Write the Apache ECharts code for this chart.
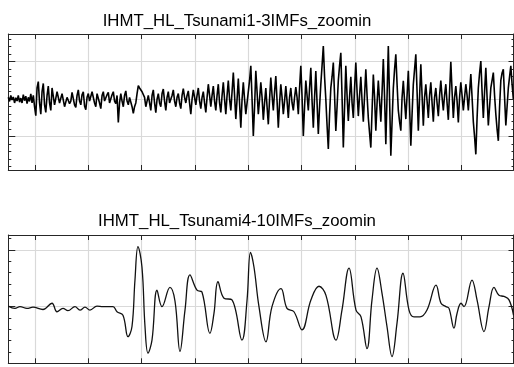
<!DOCTYPE html>
<html>
<head>
<meta charset="utf-8">
<script src="https://cdn.jsdelivr.net/npm/echarts@6/dist/echarts.min.js"></script>
<style>
  html, body { margin: 0; padding: 0; background: #fff; }
  #chart { width: 514px; height: 367px; }
</style>
</head>
<body>
<div id="chart"></div>
<script>
// panel titles
const titles = ["IHMT_HL_Tsunami1-3IMFs_zoomin", "IHMT_HL_Tsunami4-10IMFs_zoomin"];

// shared time axis (no labels shown): range and gridline positions
const timeRange = [5, 99.72];
const timeTicks = [10, 20, 30, 40, 50, 60, 70, 80, 90];

// top panel: IMFs 1-3, evenly sampled from t = 5
const topStart = 5;
const topStep = 0.234375;
const topValues = [
  0.05, -0.06, 0.1, -0.02, 0.06, -0.1, 0.04, -0.05, 0.1, -0.08,
  0.03, -0.1, 0.12, -0.04, 0.08, -0.12, 0.05, -0.06, 0.14, -0.1,
  0.1, -0.2, -0.44, 0.3, 0.47, -0.1, -0.4, 0.2, 0.42, -0.15,
  -0.35, 0.1, 0.35, -0.1, -0.3, 0.3, 0.25, -0.15, -0.2, 0.2,
  0.22, -0.1, -0.12, 0.15, 0.18, -0.2, -0.25, 0.05, 0.1, -0.12,
  -0.05, 0.18, 0.2, -0.15, -0.22, 0.1, 0.25, -0.05, -0.15, 0.12,
  0.2, -0.18, -0.28, 0.05, 0.15, -0.05, -0.1, 0.2, 0.25, -0.1,
  -0.2, 0.15, 0.12, -0.1, -0.25, 0.1, 0.2, -0.05, -0.1, 0.12,
  0.18, -0.1, -0.15, 0.12, 0.2, -0.05, -0.12, 0.1, -0.62, -0.1,
  0.15, -0.05, -0.2, 0.1, 0.22, -0.05, -0.15, 0.05, 0.1, -0.2,
  -0.38, -0.2, -0.1, 0.15, 0.36, 0.3, 0.28, 0.2, 0.25, 0.05,
  -0.2, -0.05, 0.1, -0.1, -0.3, 0.1, 0.25, -0.1, -0.36, 0.0,
  0.15, -0.1, -0.2, 0.15, 0.27, -0.05, -0.3, 0.05, 0.2, -0.1,
  -0.15, 0.1, 0.25, -0.05, -0.2, 0.05, 0.15, -0.1, -0.25, 0.1,
  0.28, 0.05, -0.1, 0.1, 0.22, -0.1, -0.4, 0.0, 0.25, 0.05,
  -0.15, 0.1, 0.3, -0.05, -0.25, 0.05, 0.2, -0.1, -0.35, 0.05,
  0.4, 0.1, -0.2, 0.1, 0.35, -0.05, -0.3, 0.1, 0.4, -0.1,
  -0.35, 0.1, 0.45, 0.0, -0.4, 0.1, 0.5, 0.0, -0.3, 0.2,
  0.71, 0.1, -0.53, 0.0, 0.55, -0.1, -0.76, 0.0, 0.45, 0.0,
  -0.4, -0.1, 0.2, 0.5, 0.89, 0.0, -0.98, -0.2, 0.76, 0.2,
  -0.4, 0.0, 0.45, 0.05, -0.55, -0.1, 0.3, -0.2, -0.67, 0.0,
  0.58, 0.1, -0.3, 0.2, 0.62, -0.05, -0.76, -0.1, 0.4, 0.05,
  -0.4, -0.05, 0.35, -0.05, -0.5, 0.05, 0.3, -0.1, -0.3, 0.05,
  0.32, 0.05, -0.4, 0.3, 0.89, 0.05, -0.98, -0.2, 0.5, 0.1,
  -0.3, 0.3, 0.84, -0.05, -0.76, 0.05, 0.75, -0.1, -0.93, -0.2,
  0.4, 0.9, 1.42, 0.6, 0.0, -0.7, -1.33, -0.4, 0.3, 0.6,
  0.98, 0.1, -0.85, -0.2, 0.5, 0.9, 1.24, 0.05, -1.29, -0.2,
  0.89, 0.1, -0.58, 0.05, 0.6, -0.1, -0.5, 0.3, 0.98, 0.2,
  -0.45, 0.1, 0.6, -0.05, -0.6, 0.1, 0.8, 0.1, -0.5, -0.9,
  -1.29, -0.3, 0.66, 0.05, -0.84, -0.1, 0.5, -0.05, -0.6, 0.2,
  1.07, 0.05, -1.2, 0.1, 1.42, 0.0, -1.51, -0.6, 0.3, 0.8,
  1.2, 0.4, -0.3, -0.6, -0.84, 0.05, 0.49, -0.05, -0.53, 0.1,
  0.76, -0.2, -1.24, -0.4, 0.4, 0.8, 1.2, 0.2, -0.84, 0.05,
  0.93, 0.1, -0.71, 0.05, 0.4, -0.05, -0.5, 0.1, 0.45, -0.1,
  -0.6, 0.05, 0.3, -0.1, -0.45, 0.1, 0.5, 0.05, -0.3, 0.1,
  0.4, -0.1, -0.55, 0.2, 1.0, 0.2, -0.5, 0.05, 0.35, -0.05,
  -0.62, 0.05, 0.45, 0.1, -0.3, 0.05, 0.4, 0.1, -0.3, 0.2,
  0.67, 0.05, -0.6, -1.0, -1.47, -0.5, 0.3, 0.7, 1.02, 0.2,
  -0.5, 0.2, 0.84, 0.05, -0.7, -0.2, 0.3, 0.5, 0.71, 0.1,
  -0.4, -0.8, -1.11, -0.2, 0.5, 0.7, 0.8, 0.05, -0.7, -0.2,
  0.3, 0.6, 0.89, 0.4, 0.0
];
const topRange = [-1.888, 1.739];
const topMajor = [-1, 0, 1];
const topMinor = [-1.8, -1.6, -1.4, -1.2, -1, -0.8, -0.6, -0.4, -0.2, 0,
  0.2, 0.4, 0.6, 0.8, 1, 1.2, 1.4, 1.6];

// bottom panel: IMFs 4-10, key points (time, value)
const bottomT = [
  5.0, 6.25, 7.19, 8.5, 9.63, 11.5, 13.19, 14.13, 15.25, 16.19,
  17.5, 18.44, 19.38, 20.31, 21.63, 22.75, 24.63, 25.38, 26.5, 27.44,
  28.19, 28.75, 29.31, 30.06, 30.63, 31.19, 31.94, 32.88, 33.81, 35.31,
  36.25, 37.19, 38.13, 39.06, 40.38, 41.31, 42.81, 43.56, 44.31, 45.44,
  46.94, 48.81, 49.75, 50.41, 51.06, 52.0, 53.31, 54.44, 56.13, 57.25,
  58.56, 60.06, 61.75, 63.25, 64.56, 66.44, 67.56, 68.88, 70.19, 71.13,
  72.25, 73.19, 74.13, 75.06, 76.0, 76.94, 77.88, 79.0, 80.13, 81.06,
  82.19, 83.5, 85.19, 86.13, 87.06, 87.63, 88.56, 89.13, 89.88, 90.44,
  91.94, 92.88, 94.19, 95.13, 96.06, 97.0, 97.94, 98.88, 99.72
];
const bottomV = [
  0.01, -0.03, 0, -0.03, -0.01, -0.05, 0.06, -0.09, -0.03, -0.07,
  0.0, -0.06, -0.01, -0.06, 0.01, 0.0, 0.0, -0.09, -0.15, -0.53,
  -0.35, 0.47, 1.06, 0.7, -0.35, -0.82, -0.59, 0.29, 0.0, 0.34,
  0.1, -0.79, -0.06, 0.56, 0.29, 0.26, -0.47, -0.12, 0.44, 0.15,
  0.12, -0.59, 0.1, 0.96, 0.7, 0.0, -0.62, 0.0, 0.32, -0.03,
  -0.09, -0.41, 0.12, 0.36, 0.2, -0.59, -0.06, 0.68, -0.06, -0.18,
  -0.74, 0.12, 0.68, 0.24, -0.35, -0.88, -0.29, 0.59, -0.06, -0.18,
  -0.18, -0.06, 0.38, 0.06, 0.0, -0.03, -0.38, -0.12, 0.06, 0.0,
  0.47, 0.12, -0.44, 0.0, 0.34, 0.2, 0.18, 0.12, -0.15
];
const bottomRange = [-1, 1.265];
const bottomMajor = [-1, 0, 1];
const bottomMinor = [-1, -0.8, -0.6, -0.4, -0.2, 0, 0.2, 0.4, 0.6, 0.8, 1, 1.2];

const topData = topValues.map((v, i) => [topStart + i * topStep, v]);
const bottomData = bottomT.map((t, i) => [t, bottomV[i]]);

const BORDER = "#262626";
const GRID = "#d9d9d9";

// one value axis with inward custom ticks
function axis(grid, pos, range, ticks, len, opts) {
  opts = opts || {};
  return {
    type: "value",
    gridIndex: grid,
    position: pos,
    min: range[0],
    max: range[1],
    silent: true,
    axisLabel: { show: false },
    axisLine: { show: opts.line !== false, onZero: false, lineStyle: { color: BORDER, width: 1 } },
    axisTick: { show: true, inside: true, length: len, customValues: ticks,
      lineStyle: { color: BORDER, width: 1 } },
    splitLine: { show: !!opts.split, lineStyle: { color: GRID, width: 1.2 } },
    axisPointer: { show: false }
  };
}

function panelX(grid) {
  return [
    axis(grid, "bottom", timeRange, timeTicks, 5, { split: true }),
    axis(grid, "top", timeRange, timeTicks, 5)
  ];
}

function panelY(grid, range, major, minor) {
  return [
    axis(grid, "left", range, major, 7, { split: true }),
    axis(grid, "left", range, minor, 3, { line: false }),
    axis(grid, "right", range, major, 5),
    axis(grid, "right", range, minor, 2, { line: false })
  ];
}

const chart = echarts.init(document.getElementById("chart"), null, { renderer: "canvas" });

chart.setOption({
  animation: false,
  backgroundColor: "#fff",
  title: titles.map((t, i) => ({
    text: t,
    left: 237,
    top: i === 0 ? 13 : 213,
    textAlign: "center",
    padding: 0,
    textStyle: { fontFamily: "Liberation Sans", fontSize: 16.8, fontWeight: "normal", color: "#000" }
  })),
  grid: [
    { left: 8.3, right: 0.5, top: 34, height: 136 },
    { left: 8.3, right: 0.5, top: 235, height: 128.3 }
  ],
  xAxis: panelX(0).concat(panelX(1)),
  yAxis: panelY(0, topRange, topMajor, topMinor).concat(panelY(1, bottomRange, bottomMajor, bottomMinor)),
  series: [
    {
      type: "line",
      xAxisIndex: 0,
      yAxisIndex: 0,
      data: topData,
      showSymbol: false,
      lineStyle: { color: "#000", width: 1.6 },
      silent: true
    },
    {
      type: "line",
      xAxisIndex: 2,
      yAxisIndex: 4,
      data: bottomData,
      showSymbol: false,
      smooth: 0.4,
      lineStyle: { color: "#111", width: 1.3 },
      silent: true
    }
  ]
});
</script>
</body>
</html>
